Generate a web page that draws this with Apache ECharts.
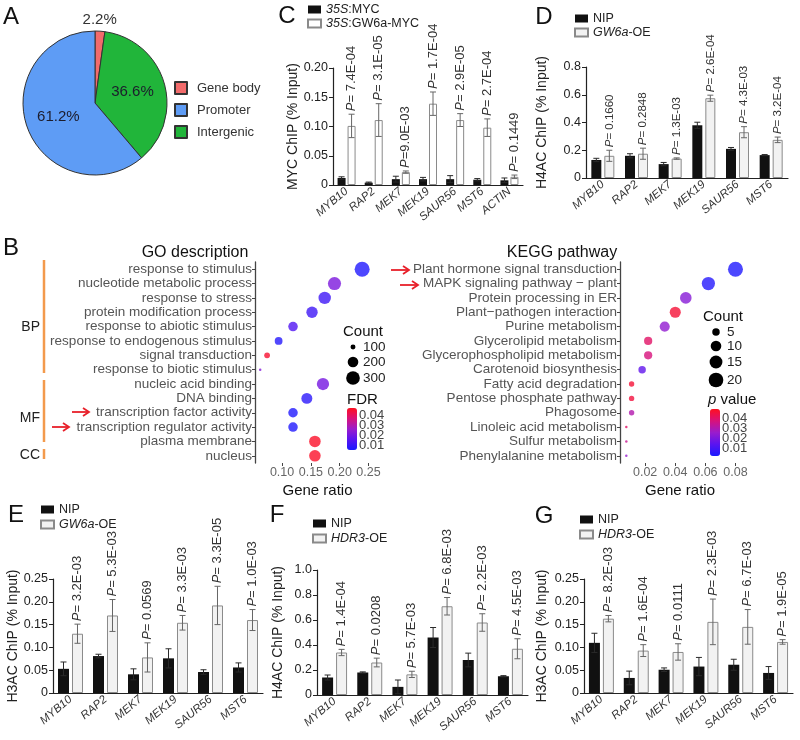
<!DOCTYPE html>
<html><head><meta charset="utf-8">
<script src="https://cdn.jsdelivr.net/npm/echarts@6/dist/echarts.min.js"></script>
<style>html,body{margin:0;padding:0;background:#fff}#c{width:800px;height:740px}</style>
</head><body><div id="c"></div>
<script>
const FF = "'Liberation Sans', Arial, Helvetica, sans-serif";

// ---------- Panel A: peak distribution
const pieNames = ['Gene body', 'Intergenic', 'Promoter'];
const pieValues = [2.2, 36.6, 61.2];
const pieColors = ['#F26B6B', '#21B53A', '#5E9CF5'];
const pieLegendOrder = ['Gene body', 'Promoter', 'Intergenic'];

// ---------- Panel C: MYC ChIP
const genesC = ['MYB10', 'RAP2', 'MEK7', 'MEK19', 'SAUR56', 'MST6', 'ACTIN'];
const cMyc = [0.012, 0.004, 0.010, 0.010, 0.010, 0.009, 0.008];
const cMycErr = [0.002, 0.001, 0.005, 0.003, 0.006, 0.002, 0.004];
const cGw = [0.101, 0.111, 0.022, 0.139, 0.111, 0.098, 0.014];
const cGwErr = [0.020, 0.028, 0.002, 0.020, 0.011, 0.015, 0.003];
const cP = ['= 7.4E-04', '= 3.1E-05', '=9.0E-03', '= 1.7E-04', '= 2.9E-05', '= 2.7E-04', '= 0.1449'];

// ---------- Panels D-G genes
const genes6 = ['MYB10', 'RAP2', 'MEK7', 'MEK19', 'SAUR56', 'MST6'];

// D: H4AC, GW6a-OE
const dNip = [0.13, 0.16, 0.10, 0.38, 0.21, 0.165];
const dNipErr = [0.012, 0.015, 0.012, 0.022, 0.010, 0.004];
const dOe = [0.16, 0.175, 0.14, 0.575, 0.33, 0.275];
const dOeErr = [0.040, 0.040, 0.005, 0.022, 0.040, 0.020];
const dP = ['= 0.1660', '= 0.2848', '= 1.3E-03', '= 2.6E-04', '= 4.3E-03', '= 3.2E-04'];

// E: H3AC, GW6a-OE
const eNip = [0.053, 0.081, 0.041, 0.076, 0.046, 0.056];
const eNipErr = [0.015, 0.004, 0.012, 0.021, 0.005, 0.010];
const eOe = [0.130, 0.170, 0.078, 0.154, 0.192, 0.160];
const eOeErr = [0.021, 0.035, 0.032, 0.016, 0.042, 0.023];
const eP = ['= 3.2E-03', '= 5.3E-03', '= 0.0569', '= 3.3E-03', '= 3.3E-05', '= 1.0E-03'];

// F: H4AC, HDR3-OE
const fNip = [0.14, 0.18, 0.065, 0.46, 0.28, 0.15];
const fNipErr = [0.020, 0.005, 0.055, 0.080, 0.055, 0.005];
const fOe = [0.34, 0.26, 0.165, 0.71, 0.58, 0.37];
const fOeErr = [0.025, 0.035, 0.025, 0.070, 0.070, 0.080];
const fP = ['= 1.4E-04', '= 0.0208', '= 5.7E-03', '= 6.8E-03', '= 2.2E-03', '= 4.5E-03'];

// G: H3AC, HDR3-OE
const gNip = [0.110, 0.033, 0.051, 0.058, 0.062, 0.044];
const gNipErr = [0.021, 0.015, 0.004, 0.020, 0.012, 0.014];
const gOe = [0.163, 0.093, 0.090, 0.156, 0.145, 0.112];
const gOeErr = [0.007, 0.013, 0.018, 0.050, 0.038, 0.005];
const gP = ['= 8.2E-03', '= 1.6E-04', '= 0.0111', '= 2.3E-03', '= 6.7E-03', '= 1.9E-05'];

// ---------- Panel B: GO
const goTerms = ['response to stimulus', 'nucleotide metabolic process', 'response to stress',
  'protein modification process', 'response to abiotic stimulus', 'response to endogenous stimulus',
  'signal transduction', 'response to biotic stimulus', 'nucleic acid binding', 'DNA binding',
  'transcription factor activity', 'transcription regulator activity', 'plasma membrane', 'nucleus'];
const goRatio = [0.239, 0.191, 0.174, 0.152, 0.119, 0.094, 0.074, 0.062, 0.171, 0.143, 0.119, 0.119, 0.157, 0.157];
const goCount = [352, 280, 255, 222, 173, 137, 108, 90, 250, 210, 173, 173, 228, 228];
const goFDR = [0.006, 0.021, 0.011, 0.011, 0.014, 0.007, 0.045, 0.022, 0.020, 0.008, 0.006, 0.006, 0.046, 0.046];
const goCountLegend = [100, 200, 300];
const goFdrTicks = [0.04, 0.03, 0.02, 0.01];

// ---------- Panel B: KEGG
const keggTerms = ['Plant hormone signal transduction', 'MAPK signaling pathway \u2212 plant',
  'Protein processing in ER', 'Plant\u2212pathogen interaction', 'Purine metabolism',
  'Glycerolipid metabolism', 'Glycerophospholipid metabolism', 'Carotenoid biosynthesis',
  'Fatty acid degradation', 'Pentose phosphate pathway', 'Phagosome', 'Linoleic acid metabolism',
  'Sulfur metabolism', 'Phenylalanine metabolism'];
const keggRatio = [0.080, 0.062, 0.047, 0.040, 0.033, 0.022, 0.022, 0.018, 0.011, 0.011, 0.011, 0.0075, 0.0075, 0.0075];
const keggCount = [21, 16, 12, 11, 9, 6, 6, 5, 3, 3, 3, 2, 2, 2];
const keggP = [0.003, 0.004, 0.022, 0.046, 0.024, 0.040, 0.037, 0.015, 0.046, 0.045, 0.030, 0.040, 0.034, 0.025];
const keggCountLegend = [5, 10, 15, 20];
const keggPTicks = [0.04, 0.03, 0.02, 0.01];

const heatColors = ['#1a1aff', '#5a14f0', '#9a1ccc', '#d8127a', '#ff1020'];

// ================= build =================
const grids = [], xAxes = [], yAxes = [], series = [], legends = [], graphics = [];

function sizeFn(lo, hi) {
  return c => 2.5 * (1 + 5 * Math.sqrt(Math.max(0, (c - lo) / (hi - lo))));
}

function errSeries(gi, vals, errs, off, color, pl, fs) {
  return {
    type: 'custom', xAxisIndex: gi, yAxisIndex: gi, silent: true, z: 4,
    data: vals.map((v, i) => [i, v, errs[i]]),
    encode: { x: 0, y: 1 },
    renderItem(params, api) {
      const i = api.value(0), v = api.value(1), e = api.value(2);
      const c = api.coord([i, v]), t = api.coord([i, v + e]), b = api.coord([i, Math.max(0, v - e)]);
      const x = c[0] + off, w = 3;
      const ls = { stroke: color, lineWidth: 1 };
      const ch = [
        { type: 'line', shape: { x1: x, y1: t[1], x2: x, y2: b[1] }, style: ls },
        { type: 'line', shape: { x1: x - w, y1: t[1], x2: x + w, y2: t[1] }, style: ls },
        { type: 'line', shape: { x1: x - w, y1: b[1], x2: x + w, y2: b[1] }, style: ls }
      ];
      if (pl) ch.push({
        type: 'text', x: x, y: t[1] - 3, rotation: Math.PI / 2,
        style: {
          text: '{i|P}' + pl[i], fontSize: fs, fontFamily: FF, fill: '#333',
          align: 'left', verticalAlign: 'middle',
          rich: { i: { fontStyle: 'italic', fontSize: fs, fontFamily: FF, fill: '#333' } }
        }
      });
      return { type: 'group', children: ch };
    }
  };
}

function addBarPanel(o) {
  const gi = grids.length;
  grids.push({ left: o.left, top: o.top, width: o.width, height: o.height, containLabel: false, outerBoundsMode: 'none' });
  xAxes.push({
    gridIndex: gi, type: 'category', data: o.cats,
    axisLine: { lineStyle: { color: '#222', width: 1.2 } },
    axisTick: { alignWithLabel: true, length: 4, lineStyle: { color: '#222' } },
    axisLabel: { rotate: 40, fontStyle: 'italic', fontSize: 11.5, color: '#333', margin: 5, interval: 0, fontFamily: FF }
  });
  yAxes.push({
    gridIndex: gi, type: 'value', min: 0, max: o.max, interval: o.interval,
    name: o.yname, nameLocation: 'middle', nameGap: o.nameGap,
    nameTextStyle: { fontSize: 14, color: '#222', fontFamily: FF },
    axisLine: { show: true, lineStyle: { color: '#222', width: 1.2 } },
    axisTick: { show: true, length: 4, lineStyle: { color: '#222' } },
    splitLine: { show: false },
    axisLabel: { fontSize: 12.5, color: '#222', margin: 5, fontFamily: FF, formatter: o.fmt }
  });
  const off = o.bw * (1 + o.gap) / 2;
  series.push({ type: 'bar', name: o.n1, xAxisIndex: gi, yAxisIndex: gi, data: o.v1, barWidth: o.bw, barGap: (o.gap * 100) + '%', itemStyle: { color: '#111' }, silent: true });
  series.push({ type: 'bar', name: o.n2, xAxisIndex: gi, yAxisIndex: gi, data: o.v2, barWidth: o.bw, barGap: (o.gap * 100) + '%', itemStyle: { color: o.fill2, borderColor: '#8a8a8a', borderWidth: 1 }, silent: true });
  series.push(errSeries(gi, o.v1, o.e1, -off, '#2a2a2a', null, 12));
  series.push(errSeries(gi, o.v2, o.e2, off, '#666', o.p, o.pfs || 13));
  legends.push({
    data: [o.n1, o.n2], left: o.lgLeft, top: o.lgTop, orient: 'vertical', padding: 0,
    itemWidth: 13, itemHeight: 8, itemGap: o.lgGap, selectedMode: false, icon: 'rect',
    formatter: o.lgFmt,
    textStyle: { fontSize: 12.5, color: '#222', fontFamily: FF, lineHeight: 10, rich: { i: { fontStyle: 'italic', fontSize: 12.5, fontFamily: FF, color: '#222' } } }
  });
}

function addDotPanel(o) {
  const gi = grids.length;
  grids.push({ left: o.left, top: o.top, width: o.width, height: o.height, containLabel: false, outerBoundsMode: 'none' });
  xAxes.push({
    gridIndex: gi, type: 'value', min: o.xmin, max: o.xmax,
    name: 'Gene ratio', nameLocation: 'middle', nameGap: 20,
    nameTextStyle: { fontSize: 15, color: '#111', fontFamily: FF },
    axisLine: { lineStyle: { color: '#444', width: 1.3 } },
    axisTick: { show: true, length: 3, customValues: o.ticks, lineStyle: { color: '#444' } },
    axisLabel: { customValues: o.ticks, formatter: v => v.toFixed(2), fontSize: 12.5, color: '#666', margin: 3, fontFamily: FF },
    splitLine: { show: false }
  });
  yAxes.push({
    gridIndex: gi, type: 'category', data: o.terms, inverse: true,
    axisLine: { lineStyle: { color: '#444', width: 1.3 } },
    axisTick: { show: true, length: 3, alignWithLabel: true, lineStyle: { color: '#444' } },
    axisLabel: { fontSize: 13.5, color: '#555', margin: 3, interval: 0, fontFamily: FF },
    splitLine: { show: false }
  });
  const lo = Math.min(...o.count), hi = Math.max(...o.count);
  const sf = sizeFn(lo, hi);
  const si = series.length;
  series.push({
    type: 'scatter', xAxisIndex: gi, yAxisIndex: gi, silent: true,
    data: o.terms.map((t, i) => [o.ratio[i], t, o.count[i], o.p[i]]),
    symbolSize: v => sf(v[2])
  });
  // size legend
  graphics.push({ type: 'text', x: o.cl.titleX, y: o.cl.titleY, style: { text: 'Count', fontSize: 15, fontFamily: FF, fill: '#111', verticalAlign: 'middle' } });
  o.cl.values.forEach((c, k) => {
    graphics.push({ type: 'circle', shape: { cx: o.cl.x, cy: o.cl.ys[k], r: sf(c) / 2 }, style: { fill: '#000' } });
    graphics.push({ type: 'text', x: o.cl.tx, y: o.cl.ys[k], style: { text: String(c), fontSize: 13.5, fontFamily: FF, fill: '#222', verticalAlign: 'middle' } });
  });
  // color legend
  const cb = o.cb;
  graphics.push({ type: 'text', x: cb.titleX, y: cb.titleY, style: { text: cb.title, fontSize: 15, fontFamily: FF, fill: '#111', verticalAlign: 'middle', rich: { i: { fontStyle: 'italic', fontSize: 15, fontFamily: FF, fill: '#111' } } } });
  cb.ticks.forEach(v => {
    const y = cb.top + cb.h * (1 - (v - cb.min) / (cb.max - cb.min));
    graphics.push({ type: 'text', x: cb.tx, y: y, style: { text: v.toFixed(2), fontSize: 13, fontFamily: FF, fill: '#444', verticalAlign: 'middle' } });
  });
  return {
    si, vm: {
      type: 'continuous', seriesIndex: si, dimension: 3, min: cb.min, max: cb.max,
      inRange: { color: heatColors }, calculable: false, realtime: false, hoverLink: false,
      left: cb.left, top: cb.top, itemWidth: 10, itemHeight: cb.h, padding: 0, text: null, orient: 'vertical'
    }
  };
}

// ---- A pie
series.push({
  type: 'pie', center: [95, 103], radius: 72, startAngle: 90, clockwise: true, silent: true,
  data: pieNames.map((n, i) => ({
    name: n, value: pieValues[i], itemStyle: { color: pieColors[i] },
    label: i === 0 ? { offset: [2, -44], color: '#333' } : {}
  })),
  label: { show: true, position: 'inside', formatter: p => p.value.toFixed(1) + '%', fontSize: 15, color: '#1c1c2c', fontFamily: FF },
  labelLine: { show: false },
  itemStyle: { borderColor: '#333', borderWidth: 1 }
});
legends.push({
  data: pieLegendOrder, left: 174, top: 81, orient: 'vertical', padding: 0, icon: 'rect',
  itemWidth: 12, itemHeight: 12, itemGap: 8, selectedMode: false,
  textStyle: { fontSize: 13, color: '#333', fontFamily: FF, lineHeight: 12, padding: [0, 0, 0, 5] }
});

const fmt2 = v => v === 0 ? '0' : v.toFixed(2);
const fmt1 = v => v === 0 ? '0' : v.toFixed(1);
const itFmt = n => n.replace('35S', '{i|35S}').replace(/^GW6a/, '{i|GW6a}').replace('HDR3', '{i|HDR3}');

// ---- C
addBarPanel({ left: 333, top: 68, width: 190, height: 117, cats: genesC, max: 0.2, interval: 0.05, fmt: fmt2,
  yname: 'MYC ChIP (% Input)', nameGap: 24, bw: 8, gap: 0.25,
  n1: '35S:MYC', n2: '35S:GW6a-MYC', v1: cMyc, e1: cMycErr, v2: cGw, e2: cGwErr, p: cP, fill2: '#ffffff', pfs: 13,
  lgLeft: 307, lgTop: 3, lgGap: 1, lgFmt: itFmt });
// ---- D
addBarPanel({ left: 586, top: 67, width: 202, height: 111, cats: genes6, max: 0.8, interval: 0.2, fmt: fmt1,
  yname: 'H4AC ChIP (% Input)', nameGap: 37, bw: 10, gap: 0.3,
  n1: 'NIP', n2: 'GW6a-OE', v1: dNip, e1: dNipErr, v2: dOe, e2: dOeErr, p: dP, fill2: '#f2f2f2', pfs: 11.5,
  lgLeft: 574, lgTop: 12, lgGap: 1, lgFmt: itFmt });
// ---- E
addBarPanel({ left: 53, top: 579, width: 210, height: 114, cats: genes6, max: 0.25, interval: 0.05, fmt: fmt2,
  yname: 'H3AC ChIP (% Input)', nameGap: 33, bw: 11, gap: 0.27,
  n1: 'NIP', n2: 'GW6a-OE', v1: eNip, e1: eNipErr, v2: eOe, e2: eOeErr, p: eP, fill2: '#f2f2f2', pfs: 13,
  lgLeft: 40, lgTop: 503, lgGap: 2, lgFmt: itFmt });
// ---- F
addBarPanel({ left: 317, top: 570, width: 211, height: 125, cats: genes6, max: 1.0, interval: 0.2, fmt: fmt1,
  yname: 'H4AC ChIP (% Input)', nameGap: 32, bw: 11, gap: 0.27,
  n1: 'NIP', n2: 'HDR3-OE', v1: fNip, e1: fNipErr, v2: fOe, e2: fOeErr, p: fP, fill2: '#f2f2f2', pfs: 13,
  lgLeft: 312, lgTop: 517, lgGap: 2, lgFmt: itFmt });
// ---- G
addBarPanel({ left: 584, top: 579, width: 209, height: 114, cats: genes6, max: 0.25, interval: 0.05, fmt: fmt2,
  yname: 'H3AC ChIP (% Input)', nameGap: 35, bw: 11, gap: 0.27,
  n1: 'NIP', n2: 'HDR3-OE', v1: gNip, e1: gNipErr, v2: gOe, e2: gOeErr, p: gP, fill2: '#f2f2f2', pfs: 13,
  lgLeft: 579, lgTop: 513, lgGap: 2, lgFmt: itFmt });

// ---- B GO
const go = addDotPanel({ left: 255, top: 262, width: 125, height: 201, xmin: 0.053, xmax: 0.27, ticks: [0.10, 0.15, 0.20, 0.25],
  terms: goTerms, ratio: goRatio, count: goCount, p: goFDR,
  cl: { titleX: 343, titleY: 332, x: 353, tx: 363, ys: [347, 362, 378], values: goCountLegend },
  cb: { title: 'FDR', titleX: 347, titleY: 400, left: 347, top: 408, h: 42, tx: 359, min: 0.005, max: 0.047, ticks: goFdrTicks } });
// ---- B KEGG
const kg = addDotPanel({ left: 620, top: 262, width: 120, height: 201, xmin: 0.0033, xmax: 0.083, ticks: [0.02, 0.04, 0.06, 0.08],
  terms: keggTerms, ratio: keggRatio, count: keggCount, p: keggP,
  cl: { titleX: 703, titleY: 317, x: 716, tx: 727, ys: [332, 346, 362, 380], values: keggCountLegend },
  cb: { title: '{i|p} value', titleX: 708, titleY: 400, left: 710, top: 409, h: 47, tx: 722, min: 0.002, max: 0.049, ticks: keggPTicks } });

// ---- annotations
const letters = [['A', 11, 17], ['B', 11, 248], ['C', 287, 16], ['D', 544, 17], ['E', 16, 515], ['F', 277, 515], ['G', 544, 516]];
letters.forEach(([t, x, y]) => graphics.push({ type: 'text', x, y, style: { text: t, fontSize: 24, fontFamily: FF, fill: '#111', align: 'center', verticalAlign: 'middle' } }));
graphics.push({ type: 'text', x: 195, y: 253, style: { text: 'GO description', fontSize: 16, fontFamily: FF, fill: '#111', align: 'center', verticalAlign: 'middle' } });
graphics.push({ type: 'text', x: 562, y: 253, style: { text: 'KEGG pathway', fontSize: 16, fontFamily: FF, fill: '#111', align: 'center', verticalAlign: 'middle' } });
[['BP', 327, 260, 373], ['MF', 418, 380, 442], ['CC', 455, 449, 459]].forEach(([t, y, y1, y2]) => {
  graphics.push({ type: 'text', x: 40, y, style: { text: t, fontSize: 14, fontFamily: FF, fill: '#222', align: 'right', verticalAlign: 'middle' } });
  graphics.push({ type: 'line', shape: { x1: 44, y1, x2: 44, y2 }, style: { stroke: '#F39A4C', lineWidth: 2.5 } });
});
[[72, 89, 412], [52, 69, 427], [391, 409, 270], [400, 418, 285]].forEach(([x1, x2, y]) => {
  graphics.push({ type: 'polyline', shape: { points: [[x1, y], [x2, y]] }, style: { stroke: '#E8202A', lineWidth: 1.8, fill: null } });
  graphics.push({ type: 'polyline', shape: { points: [[x2 - 6, y - 4], [x2, y], [x2 - 6, y + 4]] }, style: { stroke: '#E8202A', lineWidth: 1.8, fill: null } });
});

const option = {
  animation: false,
  backgroundColor: '#fff',
  textStyle: { fontFamily: FF },
  grid: grids, xAxis: xAxes, yAxis: yAxes,
  legend: legends,
  visualMap: [go.vm, kg.vm],
  series: series,
  graphic: { elements: graphics }
};
const chart = echarts.init(document.getElementById('c'), null, { width: 800, height: 740 });
chart.setOption(option);
</script>
</body></html>
